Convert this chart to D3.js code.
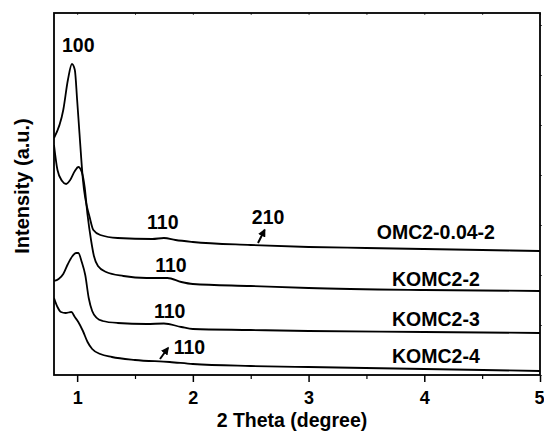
<!DOCTYPE html>
<html>
<head>
<meta charset="utf-8">
<script src="https://cdn.jsdelivr.net/npm/d3@7"></script>
<style>
  body { margin: 0; background: #fff; }
  svg { display: block; }
  text { font-family: "Liberation Sans", Arial, sans-serif; font-weight: bold; fill: #000; }
</style>
</head>
<body>
<svg id="chart"></svg>
<script>
// XRD patterns (2 theta in degree, intensity in a.u.)
const omc2_004_2 = [[0.80,237],[0.88,265],[0.92,295],[0.955,311],[0.98,305],[1.00,275],[1.02,242],[1.05,195],[1.11,157],[1.14,145],[1.20,140],[1.35,137],[1.65,136],[1.75,137],[1.85,135],[2.0,133],[2.5,130],[3.0,128],[3.5,127],[4.0,126],[4.5,125],[5.0,124]];
const komc2_2 = [[0.80,230],[0.83,205],[0.87,194],[0.905,191],[0.94,195],[0.98,204],[1.01,208],[1.04,203],[1.065,188],[1.09,160],[1.12,135],[1.145,119],[1.18,109],[1.25,103],[1.4,99],[1.6,97],[1.78,97],[1.9,93],[2.0,91],[2.5,89],[3.0,87],[4.0,85],[5.0,84]];
const komc2_3 = [[0.80,94],[0.84,96],[0.88,101],[0.92,111],[0.96,119],[0.99,122],[1.01,122],[1.04,113],[1.07,100],[1.10,77],[1.13,64],[1.17,57],[1.22,54],[1.35,52],[1.6,51],[1.75,51.5],[1.9,48],[2.0,46],[2.5,45],[3.0,44],[4.0,43],[5.0,42]];
const komc2_4 = [[0.80,77],[0.83,68],[0.86,63],[0.90,62],[0.95,63],[0.98,58],[1.01,53],[1.05,44],[1.09,33],[1.13,26],[1.2,21],[1.3,18],[1.5,15],[1.8,13],[2.0,11],[2.5,9],[3.0,8],[4.0,6],[5.0,4]];

const seriesList = [omc2_004_2, komc2_2, komc2_3, komc2_4];
const sampleNames = ["OMC2-0.04-2", "KOMC2-2", "KOMC2-3", "KOMC2-4"];
const sampleLabelPos = [[4.10,136],[4.10,89],[4.10,49],[4.10,12]];

const peakLabels = ["100", "110", "210", "110", "110", "110"];
const peakLabelPos = [[1.01,323],[1.74,146],[2.65,151],[1.81,103],[1.80,57],[1.97,21]];
const arrows = [[[2.563,132],[2.62,145]], [[1.716,16],[1.785,27]]];

const xTicks = [1, 2, 3, 4, 5];
const xMinor = [1.5, 2.5, 3.5, 4.5];

const width = 544, height = 436;
const margin = { top: 13, right: 4, bottom: 61, left: 54 };

const svg = d3.select("#chart").attr("width", width).attr("height", height);

const x = d3.scaleLinear().domain([0.8, 5]).range([margin.left, width - margin.right]);
const y = d3.scaleLinear().domain([0, 362]).range([height - margin.bottom, margin.top]);

const defs = svg.append("defs");
defs.append("marker")
  .attr("id", "arrowhead")
  .attr("viewBox", "0 0 10 10")
  .attr("refX", 8).attr("refY", 5)
  .attr("markerWidth", 4).attr("markerHeight", 4)
  .attr("orient", "auto")
  .append("path")
  .attr("d", "M0,0L10,5L0,10z")
  .attr("fill", "#000");

defs.append("clipPath").attr("id", "plot-clip")
  .append("rect")
  .attr("x", margin.left).attr("y", margin.top)
  .attr("width", width - margin.left - margin.right)
  .attr("height", height - margin.top - margin.bottom);

const line = d3.line()
  .x(d => x(d[0]))
  .y(d => y(d[1]))
  .curve(d3.curveMonotoneX);

svg.append("g")
  .attr("clip-path", "url(#plot-clip)")
  .selectAll("path")
  .data(seriesList)
  .enter().append("path")
  .attr("d", line)
  .attr("fill", "none")
  .attr("stroke", "#000")
  .attr("stroke-width", 1.8);

// bottom axis
svg.append("g")
  .attr("transform", `translate(0,${y(0)})`)
  .call(d3.axisBottom(x).tickValues(xTicks).tickSize(7).tickFormat(d3.format("d")))
  .call(g => g.select(".domain").remove())
  .call(g => g.selectAll("line").attr("stroke-width", 1.5))
  .call(g => g.selectAll("text").attr("dy", "1.05em").style("font-size", "18px").style("font-family", "Liberation Sans, Arial, sans-serif").style("font-weight", "bold"))
  .call(g => g.selectAll("text").filter(d => d === 5).attr("text-anchor", "end").attr("x", 4)); // keep "5" inside the page

svg.append("g")
  .attr("transform", `translate(0,${y(0)})`)
  .call(d3.axisBottom(x).tickValues(xMinor).tickSize(4).tickFormat(""))
  .call(g => g.select(".domain").remove())
  .call(g => g.selectAll("line").attr("stroke-width", 1.2));

// top axis small ticks
svg.append("g")
  .attr("transform", `translate(0,${margin.top})`)
  .call(d3.axisBottom(x).tickValues(xTicks.concat(xMinor)).tickSize(2).tickFormat(""))
  .call(g => g.select(".domain").remove())
  .call(g => g.selectAll("line").attr("stroke", "#555"));

// right axis small ticks
svg.append("g")
  .attr("transform", `translate(${width - margin.right},0)`)
  .call(d3.axisRight(y).ticks(6).tickSize(2).tickFormat(""))
  .call(g => g.select(".domain").remove())
  .call(g => g.selectAll("line").attr("stroke", "#555"));

// frame
svg.append("rect")
  .attr("x", margin.left).attr("y", margin.top)
  .attr("width", width - margin.left - margin.right)
  .attr("height", height - margin.top - margin.bottom)
  .attr("fill", "none")
  .attr("stroke", "#000")
  .attr("stroke-width", 1.8);

// axis titles
svg.append("text")
  .attr("x", 292)
  .attr("y", 427)
  .attr("text-anchor", "middle")
  .style("font-size", "19.5px")
  .text("2 Theta (degree)");

svg.append("text")
  .attr("transform", `translate(29,186) rotate(-90)`)
  .attr("text-anchor", "middle")
  .style("font-size", "20px")
  .text("Intensity (a.u.)");

// peak labels
svg.selectAll(".peak")
  .data(peakLabels)
  .enter().append("text")
  .attr("class", "peak")
  .attr("x", (d, i) => x(peakLabelPos[i][0]))
  .attr("y", (d, i) => y(peakLabelPos[i][1]))
  .attr("text-anchor", "middle")
  .style("font-size", "19.5px")
  .text(d => d);

// sample labels
svg.selectAll(".sample")
  .data(sampleNames)
  .enter().append("text")
  .attr("class", "sample")
  .attr("x", (d, i) => x(sampleLabelPos[i][0]))
  .attr("y", (d, i) => y(sampleLabelPos[i][1]))
  .attr("text-anchor", "middle")
  .style("font-size", "19.5px")
  .text(d => d);

// arrows
svg.selectAll(".arrow")
  .data(arrows)
  .enter().append("line")
  .attr("class", "arrow")
  .attr("x1", d => x(d[0][0])).attr("y1", d => y(d[0][1]))
  .attr("x2", d => x(d[1][0])).attr("y2", d => y(d[1][1]))
  .attr("stroke", "#000")
  .attr("stroke-width", 2)
  .attr("marker-end", "url(#arrowhead)");
</script>
</body>
</html>
